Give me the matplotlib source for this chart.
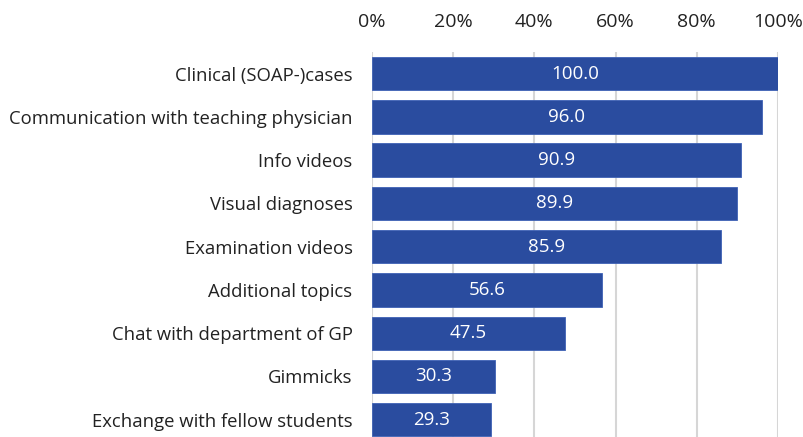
import matplotlib.pyplot as plt
import matplotlib.ticker as mtick

categorias = ["Clinical (SOAP-)cases", "Communication with teaching physician",
              "Info videos", "Visual diagnoses", "Examination videos",
              "Additional topics", "Chat with department of GP", "Gimmicks",
              "Exchange with fellow students"]
valores = [100.0, 96.0, 90.9, 89.9, 85.9, 56.6, 47.5, 30.3, 29.3]
ticks_x = [0, 20, 40, 60, 80, 100]

plt.rcParams['font.family'] = ['Open Sans', 'DejaVu Sans']

fig = plt.figure(figsize=(8.04, 4.37), dpi=100)
ax = fig.add_axes([372/804, 0, 406/804, 1 - 52/437])

pos = list(range(len(categorias)))
barras = ax.barh(pos, valores, height=0.77, color="#2A4C9F", edgecolor="#3F62B5", linewidth=0.6, zorder=3)

for p, v in zip(pos, valores):
  ax.text(v/2, p, f"{v:.1f}", ha="center", va="center", color="white", fontsize=13.5, zorder=4)

ax.set_xlim(0, 100)
ax.set_ylim(8.4, -0.5)
ax.set_yticks(pos)
ax.set_yticklabels(categorias, fontsize=13.3, color="#222222")
ax.set_xticks(ticks_x)
ax.xaxis.set_major_formatter(mtick.PercentFormatter(100, decimals=0))
ax.xaxis.tick_top()
ax.tick_params(axis="x", length=0, pad=15, labelsize=14, labelcolor="#222222")
ax.tick_params(axis="y", length=0, pad=14)
ax.grid(axis="x", color="#d6d6d6", linewidth=1.5, zorder=0)
for s in ax.spines.values():
  s.set_visible(False)

fig.savefig("out.png", dpi=100)
